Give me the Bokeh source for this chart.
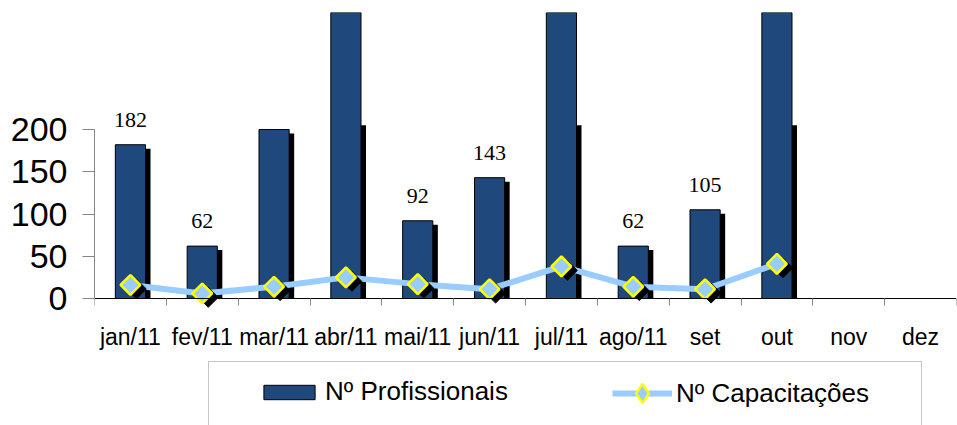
import numpy as np
from bokeh.plotting import figure
from bokeh.models import (Range1d, FixedTicker, Legend, LegendItem, BoxAnnotation)
from bokeh.core.properties import value
from bokeh.embed import file_html
from bokeh.resources import INLINE

# Monthly data
months = ["jan/11", "fev/11", "mar/11", "abr/11", "mai/11", "jun/11",
          "jul/11", "ago/11", "set", "out", "nov", "dez"]
profissionais = [182, 62, 200, 380, 92, 143, 415, 62, 105, 398, 0, 0]
capacitacoes = [16, 6, 14, 25, 17, 11, 38, 14, 11, 41]
y_ticks = [0, 50, 100, 150, 200]

BAR_BLUE = "#1F497D"
LINE_BLUE = "#99CCFF"
MARK_EDGE = "#FFFF00"
AXIS_GREY = "#868686"

W, H = 957, 425
LEFT, RIGHT, TOP = 94, 1, 12
ZERO_PX = 298            # canvas row of the value 0
Y_MAX = 338.5
AREA_TOP = 205           # top of the value area: shadows stop here
LABEL_LIMIT = 200        # only bars below this carry a value label

n = len(months)
centers = np.arange(n) + 0.5
prof = np.array(profissionais, dtype=float)
cap = np.array(capacitacoes, dtype=float)

# the frame runs to the bottom edge so the legend can sit inside it;
# the x axis is pinned at y = 0
px_y = (ZERO_PX - TOP) / Y_MAX
y_min = -(H - ZERO_PX) / px_y

p = figure(width=W, height=H, output_backend="svg", toolbar_location=None,
           x_range=Range1d(0, n), y_range=Range1d(y_min, Y_MAX),
           min_border_left=LEFT, min_border_right=RIGHT,
           min_border_top=TOP, min_border_bottom=0)
p.outline_line_color = None
p.grid.visible = False
p.background_fill_color = "white"
p.border_fill_color = "white"

# pixel scale, used for the drop-shadow offsets
px_x = (W - LEFT - RIGHT) / n
sdx, sdy = 5 / px_x, 4 / px_y

# bar shadows, then bars
has_bar = prof > 0
p.vbar(x=centers[has_bar] + sdx,
       top=np.minimum(prof[has_bar] - sdy, AREA_TOP), bottom=0,
       width=0.42, fill_color="black", line_color=None)
bars = p.vbar(x=centers, top=prof, bottom=0, width=0.42,
              fill_color=BAR_BLUE, line_color="black", line_width=1)

# value labels above the bars
mask = has_bar & (prof < LABEL_LIMIT)
p.text(x=centers[mask], y=prof[mask], text=[str(int(v)) for v in prof[mask]],
       text_font=value("Liberation Serif"), text_font_size="22px",
       text_color="black", text_align="center", text_baseline="alphabetic",
       y_offset=-25)

# Nº Capacitações line with shadowed diamond markers
m = len(cap)
line_r = p.line(centers[:m], cap, line_color=LINE_BLUE, line_width=6)
p.scatter(centers[:m] + 6 / px_x, cap - sdy, marker="square", angle=np.pi / 4,
          size=14, fill_color="black", line_color="black")
p.scatter(centers[:m], cap, marker="square", angle=np.pi / 4, size=14,
          fill_color=LINE_BLUE, line_color=MARK_EDGE, line_width=2.5)
# legend key for the markers (legend glyphs are drawn unrotated);
# it has no visible point of its own
key_r = p.scatter(x=[np.nan], y=[np.nan], marker="diamond",
                  fill_color=LINE_BLUE, line_color=MARK_EDGE, line_width=2.5)

# y axis
ya = p.yaxis[0]
ya.ticker = FixedTicker(ticks=y_ticks)
ya.bounds = (0, 200)
ya.axis_line_color = AXIS_GREY
ya.major_tick_line_color = AXIS_GREY
ya.major_tick_in = 0
ya.major_tick_out = 12
ya.minor_tick_line_color = None
ya.major_label_standoff = 15
ya.major_label_text_font = "Liberation Sans"
ya.major_label_text_font_size = "34px"
ya.major_label_text_color = "black"

# x axis: labels at the centres, ticks on the category boundaries
xa = p.xaxis[0]
xa.fixed_location = 0
xa.ticker = FixedTicker(ticks=list(centers), minor_ticks=list(range(n + 1)))
xa.major_label_overrides = {float(c): lab for c, lab in zip(centers, months)}
xa.axis_line_color = "black"
xa.major_tick_in = 0
xa.major_tick_out = 0
xa.minor_tick_in = 0
xa.minor_tick_out = 7
xa.minor_tick_line_color = AXIS_GREY
xa.major_label_standoff = 18
xa.major_label_text_font = "Liberation Sans"
xa.major_label_text_font_size = "23px"
xa.major_label_text_color = "black"

# legend: one key per series, framed by a box that runs off the bottom
common = dict(orientation="horizontal", padding=0, margin=0, label_standoff=4,
              label_text_font="Liberation Sans", label_text_font_size="26px",
              label_text_color="black", border_line_color=None,
              background_fill_alpha=0)
leg_bars = Legend(items=[LegendItem(label="Nº Profissionais", renderers=[bars])],
                  location=(163, 18), glyph_width=64, glyph_height=18,
                  label_height=18, **common)
leg_line = Legend(items=[LegendItem(label="Nº Capacitações",
                                    renderers=[line_r, key_r])],
                  location=(518, 8), glyph_width=60, glyph_height=48,
                  label_height=48, **common)
p.add_layout(leg_bars, "center")
p.add_layout(leg_line, "center")

p.add_layout(BoxAnnotation(left=208, right=921, top=361, bottom=445,
                           left_units="canvas", right_units="canvas",
                           top_units="canvas", bottom_units="canvas",
                           fill_alpha=0, line_color="#404040", line_width=1))

open("out.html", "w").write(file_html(p, INLINE))
